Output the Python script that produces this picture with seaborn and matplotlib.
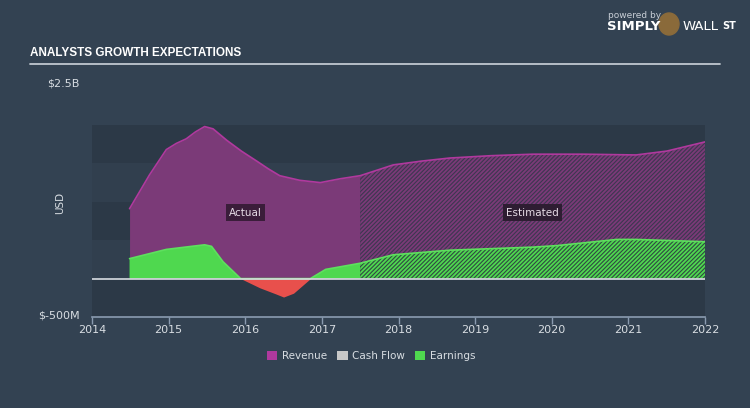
import numpy as np
import pandas as pd
import matplotlib
matplotlib.use("Agg")
import matplotlib.pyplot as plt
import seaborn as sns

# ---- data (billions USD) ----
rev_years = [2014.49, 2014.75, 2014.97, 2015.10, 2015.23, 2015.35, 2015.47, 2015.58, 2015.76,
             2015.95, 2016.15, 2016.30, 2016.45, 2016.71, 2016.98, 2017.24, 2017.50, 2017.93,
             2018.30, 2018.67, 2019.20, 2019.76, 2020.41, 2021.10, 2021.50, 2022.00]
rev_vals = [0.91, 1.35, 1.68, 1.76, 1.82, 1.91, 1.98, 1.95, 1.80,
            1.66, 1.53, 1.43, 1.34, 1.28, 1.25, 1.30, 1.34, 1.48,
            1.53, 1.57, 1.60, 1.62, 1.62, 1.61, 1.66, 1.78]
earn_years = [2014.49, 2014.97, 2015.30, 2015.47, 2015.56, 2015.71, 2015.94, 2016.19, 2016.40,
              2016.50, 2016.63, 2016.85, 2017.05, 2017.50, 2017.93, 2018.67, 2019.76, 2020.07,
              2020.85, 2021.10, 2022.00]
earn_vals = [0.26, 0.38, 0.42, 0.44, 0.42, 0.22, 0.00, -0.12, -0.20,
             -0.24, -0.19, 0.00, 0.12, 0.20, 0.31, 0.37, 0.41, 0.43,
             0.51, 0.51, 0.48]
estimate_start = 2017.5
x_ticks = [2014, 2015, 2016, 2017, 2018, 2019, 2020, 2021, 2022]
legend_labels = ["Revenue", "Cash Flow", "Earnings"]
legend_colors = ["#b0399e", "#c8c8c8", "#4fd84f"]

rev = pd.DataFrame({"year": rev_years, "value": rev_vals})
earn = pd.DataFrame({"year": earn_years, "value": earn_vals})

BG = "#334252"
sns.set_theme(style="dark")
plt.rcParams['font.family'] = ['DejaVu Sans']
plt.rcParams['hatch.linewidth'] = 1.3

fig = plt.figure(figsize=(7.5, 4.08), dpi=100, facecolor=BG)
ax = fig.add_axes([92/750, (408-317)/408, (705-92)/750, (317-125)/408])
ax.set_facecolor("#2e3b4a")
ax.set_xlim(2014, 2022)
ax.set_ylim(-0.5, 2.0)

# horizontal bands
band_cols = ["#2c3947", "#313f4e", "#2c3947", "#313f4e", "#2c3947"]
for i, lo in enumerate(np.arange(-0.5, 2.0, 0.5)):
    ax.axhspan(lo, lo + 0.5, color=band_cols[i], lw=0, zorder=0)

REV_FILL = "#7b3a78"
REV_LINE = "#b0399e"
EARN_FILL = "#4fd84f"
NEG_FILL = "#e8504c"

ry = np.array(rev_years); rv = np.array(rev_vals)
ey = np.array(earn_years); ev = np.array(earn_vals)

act_r = ry <= estimate_start
est_r = ry >= estimate_start
ax.fill_between(ry[act_r], 0, rv[act_r], color=REV_FILL, lw=0, zorder=2)
ax.fill_between(ry[est_r], 0, rv[est_r], facecolor="#3c3750", edgecolor=REV_FILL,
                hatch="////////", lw=0, zorder=2)

act_e = ey <= estimate_start
est_e = ey >= estimate_start
ax.fill_between(ey[act_e], 0, ev[act_e], where=ev[act_e] >= 0, interpolate=True,
                color=EARN_FILL, lw=0, zorder=3)
ax.fill_between(ey[act_e], 0, ev[act_e], where=ev[act_e] <= 0, interpolate=True,
                color=NEG_FILL, lw=0, zorder=3)
ax.fill_between(ey[est_e], 0, ev[est_e], facecolor="#2f4a42", edgecolor=EARN_FILL,
                hatch="////////", lw=0, zorder=3)

sns.lineplot(data=rev, x="year", y="value", color=REV_LINE, lw=1.2, ax=ax, zorder=4)
pos_e = earn.copy()
pos_e["value"] = pos_e["value"].clip(lower=0)
sns.lineplot(data=pos_e, x="year", y="value", color="#5ee05e", lw=1.2, ax=ax, zorder=4)

ax.axhline(0, color="#d8dde2", lw=1.2, zorder=5)

# labels Actual / Estimated
ax.text(2016.0, 0.86, "Actual", color="#e6dbe6", fontsize=7.5, ha="center", va="center",
        zorder=6, bbox=dict(boxstyle="square,pad=0.3", fc="#3a1d3a", ec="none"))
ax.text(2019.75, 0.86, "Estimated", color="#e6dbe6", fontsize=7.5, ha="center", va="center",
        zorder=6, bbox=dict(boxstyle="square,pad=0.3", fc="#2e1d32", ec="none"))

# axes styling
for s in ax.spines.values():
    s.set_visible(False)
ax.spines["bottom"].set_visible(True)
ax.spines["bottom"].set_color("#8a9bb0")
ax.spines["bottom"].set_linewidth(1.2)
ax.set_xticks(x_ticks)
ax.set_xticklabels([str(t) for t in x_ticks], color="#d8dde2", fontsize=8)
ax.tick_params(axis="x", length=5, width=1, color="#8a9bb0", pad=1, bottom=True)
ax.set_yticks([])
ax.set_xlabel("")
ax.set_ylabel("")
ax.grid(False)
if ax.get_legend():
    ax.get_legend().remove()

# y labels outside
fig.text(80/750, 1 - 84/408, "$2.5B", color="#d8dde2", fontsize=8, ha="right", va="center")
fig.text(80/750, 1 - 316/408, "$-500M", color="#d8dde2", fontsize=8, ha="right", va="center")
fig.text(60/750, 1 - 203/408, "USD", color="#d8dde2", fontsize=7.5, ha="center", va="center",
         rotation=90)

# title
fig.text(30/750, 1 - 53/408, "ANALYSTS GROWTH EXPECTATIONS", color="white", fontsize=8.5,
         fontweight="bold", family=["Liberation Sans", "DejaVu Sans"],
         ha="left", va="center")
fig.add_artist(plt.Line2D([30/750, 720/750], [1 - 64/408, 1 - 64/408], color="#c0c8d0",
                          lw=1.3, transform=fig.transFigure))

# logo
fig.text(608/750, 1 - 15/408, "powered by", color="#c8ced6", fontsize=6.5, ha="left", va="center")
fig.text(607/750, 1 - 27/408, "SIMPLY", color="white", fontsize=9.5, fontweight="bold",
         ha="left", va="center")
fig.add_artist(matplotlib.patches.Ellipse((669/750, 1 - 24/408), 20/750, 22/408,
                                          transform=fig.transFigure, color="#8a6a3a"))
fig.text(683/750, 1 - 27/408, "WALL", color="white", fontsize=9.5, ha="left", va="center")
fig.text(722/750, 1 - 26/408, "ST", color="white", fontsize=7, fontweight="bold",
         ha="left", va="center")

# legend
handles = [matplotlib.patches.Patch(facecolor=c, edgecolor="none") for c in legend_colors]
leg = fig.legend(handles, legend_labels, loc="center", bbox_to_anchor=(371/750, 1 - 356/408),
                 ncol=3, frameon=False, fontsize=7.5, handlelength=1.0, handleheight=1.0,
                 handletextpad=0.4, columnspacing=1.0)
for t in leg.get_texts():
    t.set_color("#d8dde2")

fig.savefig("out.png", dpi=100, facecolor=BG)
